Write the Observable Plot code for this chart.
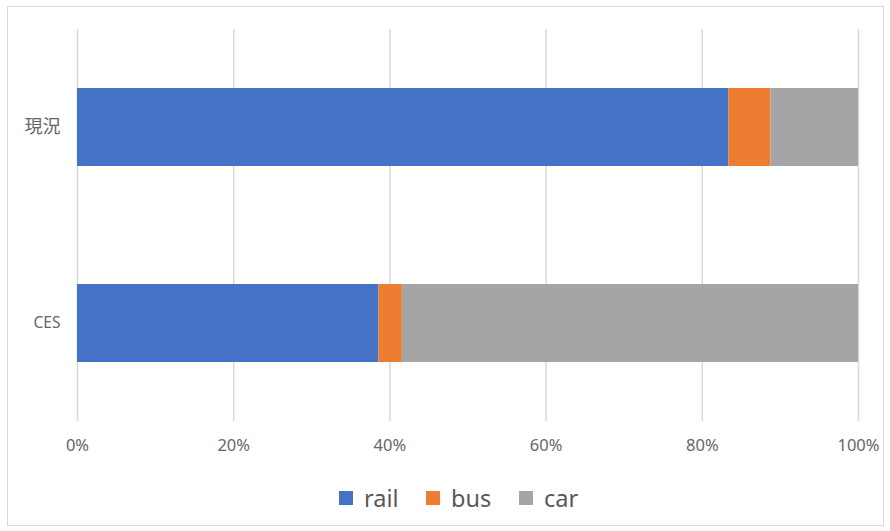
<!DOCTYPE html>
<html>
<head>
<meta charset="utf-8">
<script src="https://cdn.jsdelivr.net/npm/d3@7"></script>
<script src="https://cdn.jsdelivr.net/npm/@observablehq/plot@0.6"></script>
<style>
  body { margin: 0; background: #fff; }
  #wrap { position: relative; width: 890px; height: 531px; font-family: "Noto Sans", "Noto Sans CJK JP", sans-serif; }
  #border { position: absolute; left: 7px; top: 6px; width: 877px; height: 520px; border: 1.5px solid #d9d9d9; box-sizing: border-box; pointer-events: none; }
  #legend { position: absolute; left: 0; top: 478px; width: 890px; height: 40px; }
  .item { position: absolute; top: 0; height: 40px; display: flex; align-items: center; font-size: 23.5px; color: #595959; }
  .sw { width: 14px; height: 14px; margin-right: 11px; }
</style>
</head>
<body>
<div id="wrap">
  <div id="chart"></div>
  <div id="border"></div>
  <div id="legend"></div>
</div>
<script>
const categories = ["現況", "CES"];
const modes = ["rail", "bus", "car"];
const colors = ["#4472C4", "#ED7D31", "#A5A5A5"];
const rail = [83.4, 38.6];
const bus = [5.4, 3.0];
const car = [11.2, 58.4];
const xTicks = [0, 20, 40, 60, 80, 100];

const series = { rail, bus, car };
const data = categories.flatMap((c, i) => modes.map(m => ({ cat: c, mode: m, v: series[m][i] })));

const chart = Plot.plot({
  width: 890,
  height: 531,
  marginLeft: 77,
  marginRight: 32,
  marginTop: 29,
  marginBottom: 110,
  style: { fontFamily: '"Noto Sans", "Noto Sans CJK JP", sans-serif', background: "transparent" },
  x: { domain: [0, 100], label: null },
  y: { domain: categories, paddingInner: 0.6, paddingOuter: 0.3, label: null },
  color: { domain: modes, range: colors },
  marks: [
    Plot.gridX(xTicks, { stroke: "#d9d9d9", strokeOpacity: 1, strokeWidth: 1.5 }),
    Plot.barX(data, Plot.stackX({ x: "v", y: "cat", fill: "mode", order: modes })),
    Plot.axisX(xTicks, { tickSize: 0, tickPadding: 18, fontSize: 16.5, fill: "#666666", tickFormat: d => d + "%", label: null }),
    Plot.axisY({ tickSize: 0, tickPadding: 17, fontSize: d => (d === "CES" ? 15.5 : 18), fill: "#666666", label: null })
  ]
});
document.getElementById("chart").appendChild(chart);

const legend = document.getElementById("legend");
const lefts = [339, 426, 519];
modes.forEach((m, i) => {
  const it = document.createElement("div");
  it.className = "item";
  it.style.left = lefts[i] + "px";
  const sw = document.createElement("div");
  sw.className = "sw";
  sw.style.background = colors[i];
  it.appendChild(sw);
  it.appendChild(document.createTextNode(m));
  legend.appendChild(it);
});
</script>
</body>
</html>
